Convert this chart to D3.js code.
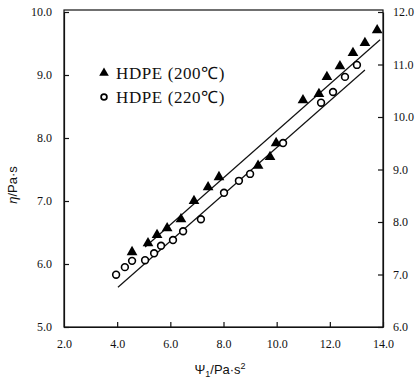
<!DOCTYPE html>
<html>
<head>
<meta charset="utf-8">
<script src="https://cdn.jsdelivr.net/npm/d3@7"></script>
<style>
  html, body { margin: 0; padding: 0; background: #fff; }
  svg { display: block; }
</style>
</head>
<body>
<svg id="chart" width="418" height="384"></svg>
<script>
// ---- data ----
const xTicks = [2.0, 4.0, 6.0, 8.0, 10.0, 12.0, 14.0];
const yLeftTicks = [5.0, 6.0, 7.0, 8.0, 9.0, 10.0];
const yRightTicks = [6.0, 7.0, 8.0, 9.0, 10.0, 11.0, 12.0];
const seriesNames = ["HDPE (200\u2103)", "HDPE (220\u2103)"];

const psi200 = [4.56, 5.16, 5.50, 5.88, 6.40, 6.89, 7.42, 7.83, 9.30, 9.75, 9.98, 10.99, 11.59, 11.89, 12.38, 12.87, 13.32, 13.78];
const eta200 = [6.19, 6.33, 6.46, 6.57, 6.71, 7.00, 7.22, 7.38, 7.56, 7.70, 7.92, 8.60, 8.70, 8.97, 9.14, 9.35, 9.51, 9.71];

const psi220 = [3.96, 4.29, 4.56, 5.05, 5.39, 5.65, 6.10, 6.48, 7.15, 8.02, 8.58, 9.00, 10.24, 11.67, 12.12, 12.57, 13.02];
const eta220 = [5.83, 5.95, 6.05, 6.06, 6.17, 6.29, 6.38, 6.52, 6.71, 7.13, 7.32, 7.43, 7.92, 8.56, 8.73, 8.97, 9.16];

// fitted lines (end points)
const fit200X = [5.05, 13.89];
const fit200Y = [6.27, 9.56];
const fit220X = [4.03, 13.32];
const fit220Y = [5.63, 9.08];

// ---- layout ----
const svg = d3.select("#chart");
const L = 64, R = 383, T = 12, B = 327;

const x = d3.scaleLinear().domain([2, 14]).range([L, R]);
const yL = d3.scaleLinear().domain([5, 10]).range([B, T]);
const yR = d3.scaleLinear().domain([6, 12]).range([B, T]);

const serif = "'Liberation Serif', 'Times New Roman', serif";
const sans = "'Liberation Sans', Arial, sans-serif";

// frame
svg.append("rect").attr("x", L).attr("y", T - 2).attr("width", R - L).attr("height", B - T + 2)
  .attr("fill", "none").attr("stroke", "#111").attr("stroke-width", 1.2);

// axes
const fmt = d3.format(".1f");
const gx = svg.append("g").attr("transform", `translate(0,${B})`)
  .call(d3.axisBottom(x).tickValues(xTicks).tickFormat(fmt).tickSizeInner(-5).tickSizeOuter(0).tickPadding(12));
const gl = svg.append("g").attr("transform", `translate(${L},0)`)
  .call(d3.axisLeft(yL).tickValues(yLeftTicks).tickFormat(fmt).tickSizeInner(-5).tickSizeOuter(0).tickPadding(12));
const gr = svg.append("g").attr("transform", `translate(${R},0)`)
  .call(d3.axisRight(yR).tickValues(yRightTicks).tickFormat(fmt).tickSizeInner(-5).tickSizeOuter(0).tickPadding(10));

[gx, gl, gr].forEach(g => {
  g.select(".domain").attr("stroke", "#111").attr("stroke-width", 1.2);
  g.selectAll(".tick line").attr("stroke", "#111").attr("stroke-width", 1.2);
  g.selectAll(".tick text").attr("font-family", serif).attr("font-size", 12).attr("fill", "#111");
});
gx.selectAll(".tick").filter(d => d === 2).select("line").remove();

// fitted lines
const line = d3.line().x(d => x(d[0])).y(d => yL(d[1]));
svg.append("path").datum(d3.zip(fit200X, fit200Y)).attr("d", line)
  .attr("fill", "none").attr("stroke", "#111").attr("stroke-width", 1.2);
svg.append("path").datum(d3.zip(fit220X, fit220Y)).attr("d", line)
  .attr("fill", "none").attr("stroke", "#111").attr("stroke-width", 1.2);

// markers
const tri = d3.symbol().type(d3.symbolTriangle).size(50);
svg.append("g").selectAll("path").data(d3.zip(psi200, eta200)).join("path")
  .attr("d", tri).attr("transform", d => `translate(${x(d[0])},${yL(d[1])})`)
  .attr("fill", "#000");

svg.append("g").selectAll("circle").data(d3.zip(psi220, eta220)).join("circle")
  .attr("cx", d => x(d[0])).attr("cy", d => yL(d[1])).attr("r", 3.4)
  .attr("fill", "#fff").attr("stroke", "#000").attr("stroke-width", 1.6);

// legend
const leg = svg.append("g");
leg.append("path").attr("d", d3.symbol().type(d3.symbolTriangle).size(40))
  .attr("transform", "translate(104,73)").attr("fill", "#000");
leg.append("circle").attr("cx", 104).attr("cy", 97).attr("r", 2.9)
  .attr("fill", "#fff").attr("stroke", "#000").attr("stroke-width", 1.7);
leg.append("text").attr("x", 116).attr("y", 79).text(seriesNames[0])
  .attr("font-family", serif).attr("font-size", 17).attr("letter-spacing", 0.6).attr("fill", "#111");
leg.append("text").attr("x", 116).attr("y", 103).text(seriesNames[1])
  .attr("font-family", serif).attr("font-size", 17).attr("letter-spacing", 0.6).attr("fill", "#111");

// axis titles
const xt = svg.append("text").attr("x", 220).attr("y", 374).attr("text-anchor", "middle")
  .attr("font-family", sans).attr("font-size", 13).attr("fill", "#111");
xt.append("tspan").text("\u03A8");
xt.append("tspan").text("1").attr("font-size", 9).attr("dy", 3);
xt.append("tspan").text("/Pa\u00B7s").attr("dy", -3);
xt.append("tspan").text("2").attr("font-size", 9).attr("dy", -5);

const yt = svg.append("text").attr("transform", "translate(17,185) rotate(-90)")
  .attr("text-anchor", "middle").attr("font-family", sans).attr("font-size", 13).attr("fill", "#111");
yt.append("tspan").text("\u03B7").attr("font-style", "italic");
yt.append("tspan").text("/Pa\u00B7s");
</script>
</body>
</html>
